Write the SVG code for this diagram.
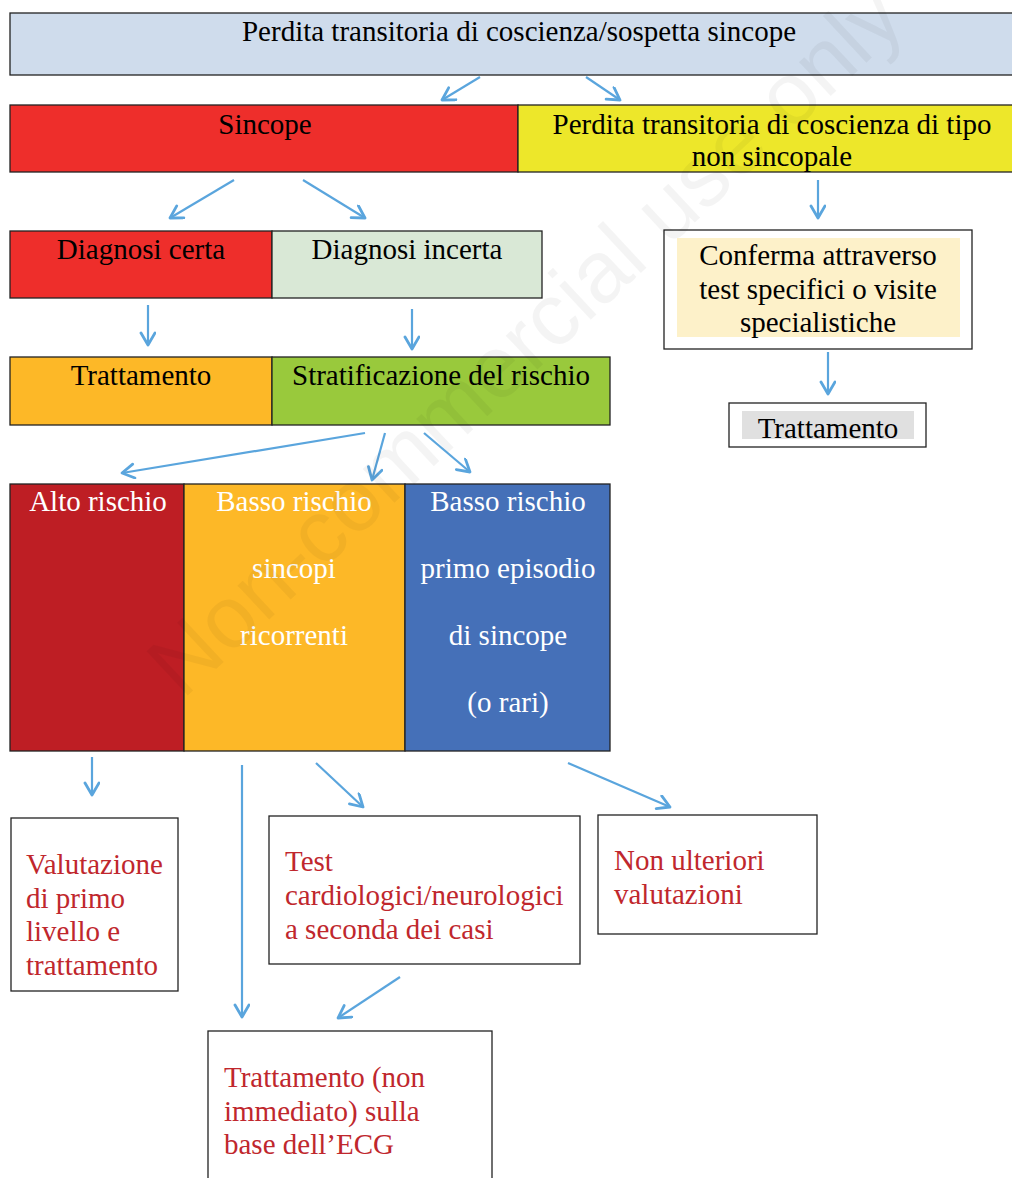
<svg xmlns="http://www.w3.org/2000/svg" width="1012" height="1178" viewBox="0 0 1012 1178">
<defs>
<marker id="ah" markerUnits="userSpaceOnUse" markerWidth="20" markerHeight="20" refX="14" refY="8" orient="auto">
<path d="M2,1 L14,8 L2,15" fill="none" stroke="#5aa5dd" stroke-width="2.8" stroke-linecap="round" stroke-linejoin="round"/>
</marker>
<style>
.t{font-family:"Liberation Serif","Times New Roman",serif;font-size:29px;fill:#000}
.c{text-anchor:middle}
.w{fill:#fff}
.r{fill:#c0272d}
.bx{stroke:#222;stroke-width:1.3}
.cn line{stroke:#5aa5dd;stroke-width:2.2;marker-end:url(#ah);fill:none}
</style>
</defs>
<rect width="1012" height="1178" fill="#fff"/>

<g id="top">
<rect class="bx" x="10" y="13" width="1010" height="62" fill="#cfdcec"/>
<text class="t c" x="519" y="41">Perdita transitoria di coscienza/sospetta sincope</text>
</g>

<g id="sincope">
<rect class="bx" x="10" y="105" width="508" height="67" fill="#ee2e2b"/>
<text class="t c" x="265" y="134">Sincope</text>
</g>
<g id="nonsincopale">
<rect class="bx" x="518" y="105" width="502" height="67" fill="#ede72a"/>
<text class="t c" x="772" y="134">Perdita transitoria di coscienza di tipo</text>
<text class="t c" x="772" y="166">non sincopale</text>
</g>

<g id="diagcerta">
<rect class="bx" x="10" y="231" width="262" height="67" fill="#ee2e2b"/>
<text class="t c" x="141" y="259">Diagnosi certa</text>
</g>
<g id="diagincerta">
<rect class="bx" x="272" y="231" width="270" height="67" fill="#d9e8d6"/>
<text class="t c" x="407" y="259">Diagnosi incerta</text>
</g>
<g id="conferma">
<rect class="bx" x="664" y="230" width="308" height="119" fill="#fff"/>
<rect x="677" y="238" width="283" height="99" fill="#fdf1c9"/>
<text class="t c" x="818" y="265">Conferma attraverso</text>
<text class="t c" x="818" y="299">test specifici o visite</text>
<text class="t c" x="818" y="332">specialistiche</text>
</g>

<g id="trattamento1">
<rect class="bx" x="10" y="357" width="262" height="68" fill="#fdb827"/>
<text class="t c" x="141" y="385">Trattamento</text>
</g>
<g id="stratificazione">
<rect class="bx" x="272" y="357" width="338" height="68" fill="#99c93c"/>
<text class="t c" x="441" y="385">Stratificazione del rischio</text>
</g>
<g id="trattamento2">
<rect class="bx" x="729" y="403" width="197" height="44" fill="#fff"/>
<rect x="742" y="411" width="172" height="28" fill="#e0e0e0"/>
<text class="t c" x="828" y="438">Trattamento</text>
</g>

<g id="alto">
<rect class="bx" x="10" y="484" width="174" height="267" fill="#be1e24"/>
<text class="t c w" x="98" y="511">Alto rischio</text>
</g>
<g id="bassoric">
<rect class="bx" x="184" y="484" width="221" height="267" fill="#fdb827"/>
<text class="t c w" x="294" y="511">Basso rischio</text>
<text class="t c w" x="294" y="578">sincopi</text>
<text class="t c w" x="294" y="645">ricorrenti</text>
</g>
<g id="bassoprimo">
<rect class="bx" x="405" y="484" width="205" height="267" fill="#4570b8"/>
<text class="t c w" x="508" y="511">Basso rischio</text>
<text class="t c w" x="508" y="578">primo episodio</text>
<text class="t c w" x="508" y="645">di sincope</text>
<text class="t c w" x="508" y="712">(o rari)</text>
</g>

<g id="valutazione">
<rect class="bx" x="11" y="818" width="167" height="173" fill="#fff"/>
<text class="t r" x="26" y="874">Valutazione</text>
<text class="t r" x="26" y="908">di primo</text>
<text class="t r" x="26" y="941">livello e</text>
<text class="t r" x="26" y="975">trattamento</text>
</g>
<g id="test">
<rect class="bx" x="269" y="816" width="311" height="148" fill="#fff"/>
<text class="t r" x="285" y="871">Test</text>
<text class="t r" x="285" y="905">cardiologici/neurologici</text>
<text class="t r" x="285" y="939">a seconda dei casi</text>
</g>
<g id="nonulteriori">
<rect class="bx" x="598" y="815" width="219" height="119" fill="#fff"/>
<text class="t r" x="614" y="870">Non ulteriori</text>
<text class="t r" x="614" y="904">valutazioni</text>
</g>
<g id="trattecg">
<rect class="bx" x="208" y="1031" width="284" height="160" fill="#fff"/>
<text class="t r" x="224" y="1087">Trattamento (non</text>
<text class="t r" x="224" y="1121">immediato) sulla</text>
<text class="t r" x="224" y="1154">base dell’ECG</text>
</g>

<g id="connectors" class="cn">
<line x1="480" y1="77" x2="442" y2="100"/>
<line x1="586" y1="77" x2="620" y2="100"/>
<line x1="234" y1="180" x2="170" y2="218"/>
<line x1="303" y1="180" x2="365" y2="218"/>
<line x1="818" y1="180" x2="818" y2="218"/>
<line x1="148" y1="305" x2="148" y2="345"/>
<line x1="412" y1="309" x2="412" y2="349"/>
<line x1="828" y1="352" x2="828" y2="394"/>
<line x1="365" y1="433" x2="122" y2="473"/>
<line x1="385" y1="433" x2="372" y2="480"/>
<line x1="424" y1="433" x2="470" y2="472"/>
<line x1="92" y1="757" x2="92" y2="795"/>
<line x1="242" y1="765" x2="242" y2="1017"/>
<line x1="316" y1="763" x2="363" y2="807"/>
<line x1="568" y1="763" x2="670" y2="807"/>
<line x1="400" y1="977" x2="338" y2="1018"/>
</g>

<text x="525" y="370" transform="rotate(-43 525 340)" text-anchor="middle" font-family="Liberation Sans, Arial, sans-serif" font-size="88" fill="#000" fill-opacity="0.045">Non-commercial use only</text>
</svg>
